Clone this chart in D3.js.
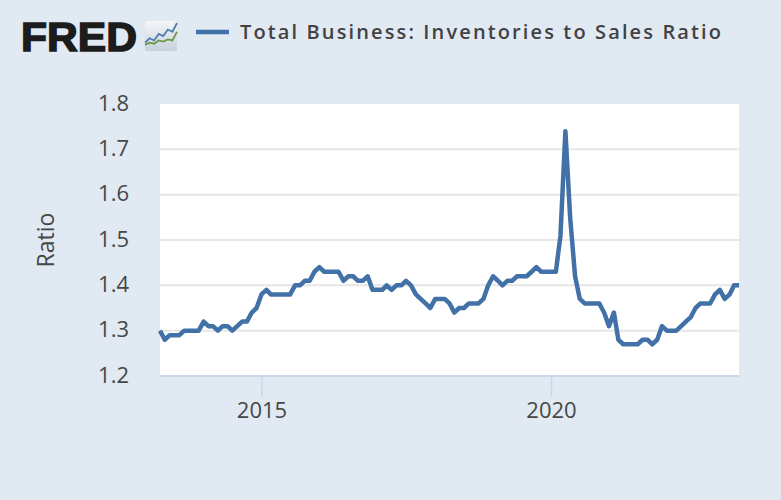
<!DOCTYPE html>
<html><head><meta charset="utf-8">
<script src="https://cdn.jsdelivr.net/npm/d3@7"></script>
<style>
html,body{margin:0;padding:0;background:#e1e9f2;}
svg{display:block;}
text{font-family:"Open Sans",sans-serif;}
</style></head><body><div id="c"></div>
<script>
const startDate = [2013, 3];
const ratio = [
1.30,1.28,1.29,1.29,1.29,1.30,1.30,1.30,1.30,
1.32,1.31,1.31,1.30,1.31,1.31,1.30,1.31,1.32,1.32,1.34,1.35,
1.38,1.39,1.38,1.38,1.38,1.38,1.38,1.40,1.40,1.41,1.41,1.43,
1.44,1.43,1.43,1.43,1.43,1.41,1.42,1.42,1.41,1.41,1.42,1.39,
1.39,1.39,1.40,1.39,1.40,1.40,1.41,1.40,1.38,1.37,1.36,1.35,
1.37,1.37,1.37,1.36,1.34,1.35,1.35,1.36,1.36,1.36,1.37,1.40,
1.42,1.41,1.40,1.41,1.41,1.42,1.42,1.42,1.43,1.44,1.43,1.43,
1.43,1.43,1.51,1.74,1.55,1.42,1.37,1.36,1.36,1.36,1.36,1.34,
1.31,1.34,1.28,1.27,1.27,1.27,1.27,1.28,1.28,1.27,1.28,1.31,
1.30,1.30,1.30,1.31,1.32,1.33,1.35,1.36,1.36,1.36,1.38,1.39,
1.37,1.38,1.40,1.40];
const yTicks = [1.2,1.3,1.4,1.5,1.6,1.7,1.8];
const xTickYears = [2015,2020];
const title = "Total Business: Inventories to Sales Ratio";
const yTitle = "Ratio";
const logoText = "FRED";
const logoBlue = [2,4,3,6,5,8,7,11];
const logoGreen = [1,2,1.5,3,2.5,3.5,3,7];

const W=781,H=500,L=160,R=739,T=104,B=376;
const ink="#474747";
const svg=d3.select("#c").append("svg").attr("width",W).attr("height",H);
svg.append("rect").attr("width",W).attr("height",H).attr("fill","#e1e9f2");
const data=ratio.map((v,i)=>({d:new Date(startDate[0],startDate[1]+i,1),v}));
const x=d3.scaleTime().domain(d3.extent(data,d=>d.d)).range([L,R]);
const y=d3.scaleLinear().domain([1.2,1.8]).range([B,T]);
svg.append("rect").attr("x",L).attr("y",T).attr("width",R-L).attr("height",B-T).attr("fill","#fff");

svg.append("g").selectAll("line").data(yTicks.filter(t=>t>1.2&&t<1.8)).join("line")
 .attr("x1",L).attr("x2",R).attr("y1",d=>y(d)).attr("y2",d=>y(d))
 .attr("stroke","#e6e6e6").attr("stroke-width",2);

const xAxis=d3.axisBottom(x).tickValues(xTickYears.map(t=>new Date(t,0,1))).tickFormat(d3.timeFormat("%Y")).tickSize(21).tickPadding(0);
const gx=svg.append("g").attr("transform",`translate(0,${B})`).call(xAxis);
gx.select(".domain").attr("stroke","#ccd6eb").attr("stroke-width",2).attr("d",`M${L},0H${R}`);
gx.selectAll("line").attr("stroke","#ccd6eb").attr("stroke-width",1.5);
gx.selectAll("text").attr("font-size",22).attr("fill",ink).attr("dy",0).attr("y",42)
  .style("font-family",'"Open Sans",sans-serif');

const yAxis=d3.axisLeft(y).tickValues(yTicks).tickFormat(d3.format(".1f")).tickSize(0).tickPadding(0);
const gy=svg.append("g").attr("transform",`translate(${L},0)`).call(yAxis);
gy.select(".domain").remove();
gy.selectAll("text").attr("font-size",22).attr("fill",ink).attr("x",-31).attr("dy","0.28em")
  .style("font-family",'"Open Sans",sans-serif');

svg.append("text").attr("transform",`translate(53.5,240) rotate(-90)`).attr("text-anchor","middle")
 .attr("font-size",23).attr("fill",ink).text(yTitle);

svg.append("path").datum(data).attr("fill","none").attr("stroke","#4171a6").attr("stroke-width",4.5)
 .attr("stroke-linejoin","round").attr("stroke-linecap","butt")
 .attr("d",d3.line().x(d=>x(d.d)).y(d=>y(d.v)));

// header
svg.append("text").attr("x",21).attr("y",51).attr("font-size",41).attr("font-weight",800)
 .attr("fill","#1c1c1c").attr("textLength",116).attr("lengthAdjust","spacingAndGlyphs")
 .style("font-family",'"Liberation Sans",sans-serif').style("stroke","#1c1c1c").style("stroke-width",1.5).text(logoText);
const defs=svg.append("defs");
const g=defs.append("linearGradient").attr("id","ic").attr("x1",0).attr("x2",0).attr("y1",0).attr("y2",1);
g.append("stop").attr("offset","0").attr("stop-color","#f4f6f8");
g.append("stop").attr("offset","1").attr("stop-color","#c6d1dd");
svg.append("rect").attr("x",145).attr("y",21).attr("width",32).attr("height",30).attr("rx",2).attr("fill","url(#ic)");
const lx=d3.scaleLinear().domain([0,logoBlue.length-1]).range([145,177]);
const ly=d3.scaleLinear().domain([0,11]).range([47,23]);
const ln=d3.line().x((d,i)=>lx(i)).y(d=>ly(d));
svg.append("path").attr("d",ln(logoBlue)).attr("fill","none").attr("stroke","#4f7cae").attr("stroke-width",1.8);
svg.append("path").attr("d",ln(logoGreen)).attr("fill","none").attr("stroke","#6f9a44").attr("stroke-width",1.8);

svg.append("line").attr("x1",196).attr("x2",229).attr("y1",32).attr("y2",32).attr("stroke","#4171a6").attr("stroke-width",4.5);
svg.append("text").attr("x",240).attr("y",38.5).attr("font-size",20).attr("font-weight",600)
 .attr("fill","#424242").attr("textLength",481).attr("lengthAdjust","spacing").text(title);
</script></body></html>
